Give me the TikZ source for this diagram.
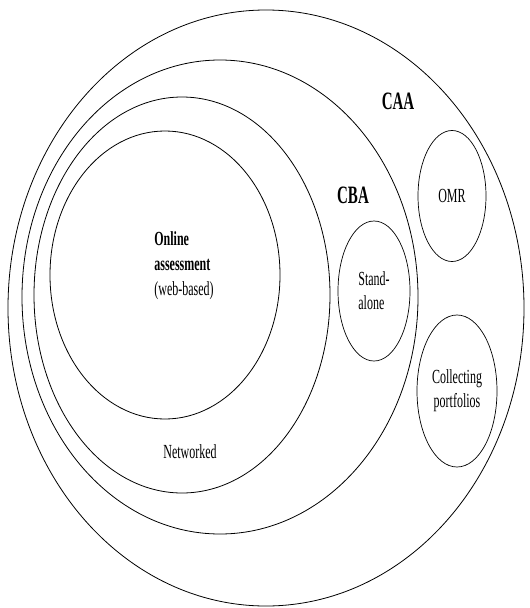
\documentclass[tikz,border=0pt]{standalone}
\usepackage{fontspec}
\setmainfont{Liberation Serif}[FakeStretch=0.6]
\usetikzlibrary{shapes.geometric}

\tikzset{
  ring/.style={draw, line width=0.8pt},
  part/.style={draw, ellipse, line width=0.7pt, inner sep=0pt,
    font=\fontsize{20}{24}\selectfont},
  tag/.style={font=\fontsize{25}{30}\selectfont\bfseries},
}

\begin{document}
\begin{tikzpicture}[x=1pt,y=-1pt]
  \useasboundingbox (0,0) rectangle (530,608);

  % nested areas
  \draw[ring] (266,308) ellipse [x radius=258, y radius=298];
  \draw[ring] (220,297) ellipse [x radius=198, y radius=237];
  \draw[ring] (182,295) ellipse [x radius=148, y radius=198];
  \draw[ring] (165,275) ellipse [x radius=115, y radius=144];

  \node[tag] (caa) at (398,101) {CAA};
  \node[tag] (cba) at (353,195) {CBA};
  \node[align=left, font=\fontsize{20}{25}\selectfont] (online) at (184,266)
    {\textbf{Online}\\\textbf{assessment}\\(web-based)};
  \node[font=\fontsize{20}{24}\selectfont] (net) at (190,452) {Networked};

  % side areas
  \node[part, align=left, minimum width=72pt, minimum height=140pt] (alone) at (374,291) {Stand-\\alone};
  \node[part, minimum width=68pt, minimum height=131pt] (omr) at (452,196) {OMR};
  \node[part, align=center, minimum width=80pt, minimum height=152pt] (port) at (457,391) {Collecting\\portfolios};
\end{tikzpicture}
\end{document}
